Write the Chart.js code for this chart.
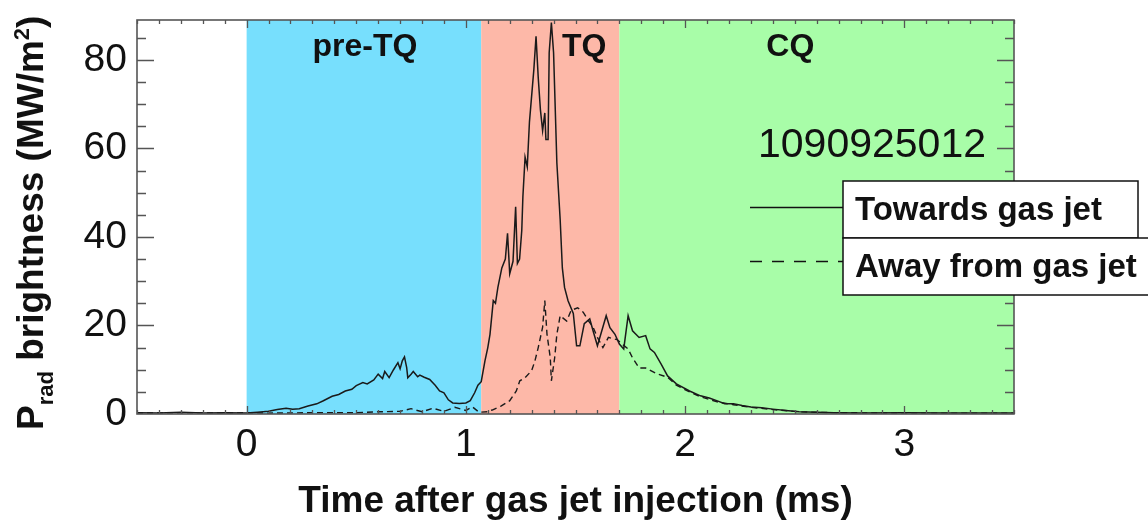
<!DOCTYPE html>
<html>
<head>
<meta charset="utf-8">
<script src="https://cdn.jsdelivr.net/npm/chart.js@4"></script>
<style>
  html, body { margin: 0; padding: 0; background: #fff; }
  #wrap { width: 1148px; height: 526px; }
</style>
</head>
<body>
<div id="wrap"><canvas id="prad" width="1148" height="526"></canvas></div>
<script>
// Prad brightness (MW/m^2) vs time after gas jet injection (ms)
const towardsTime = [-0.50, -0.40, -0.30, -0.20, -0.10, 0.00, 0.05, 0.10, 0.14, 0.18,
  0.21, 0.24, 0.28, 0.32, 0.35, 0.39, 0.42, 0.45, 0.48, 0.50,
  0.53, 0.55, 0.58, 0.60, 0.62, 0.63, 0.65, 0.67, 0.69, 0.70,
  0.71, 0.72, 0.73, 0.735, 0.75, 0.76, 0.78, 0.79, 0.81, 0.835,
  0.86, 0.88, 0.90, 0.92, 0.94, 0.97, 1.00, 1.02, 1.04, 1.055,
  1.07, 1.087, 1.10, 1.11, 1.125, 1.135, 1.146, 1.164, 1.18, 1.19,
  1.20, 1.215, 1.227, 1.235, 1.245, 1.255, 1.26, 1.27, 1.28, 1.29,
  1.31, 1.32, 1.33, 1.34, 1.35, 1.36, 1.365, 1.375, 1.38, 1.39,
  1.40, 1.415, 1.43, 1.44, 1.45, 1.466, 1.49, 1.505, 1.52, 1.54,
  1.565, 1.58, 1.60, 1.62, 1.64, 1.657, 1.68, 1.70, 1.72, 1.74,
  1.76, 1.79, 1.82, 1.84, 1.86, 1.89, 1.92, 1.96, 2.02, 2.07,
  2.11, 2.15, 2.18, 2.22, 2.26, 2.30, 2.35, 2.40, 2.46, 2.52,
  2.60, 2.68, 2.80, 3.00, 3.20, 3.50];
const towardsPrad = [0.3, 0.2, 0.4, 0.2, 0.3, 0.2, 0.4, 0.6, 1.0, 1.3,
  1.1, 1.2, 1.8, 2.3, 3.0, 4.0, 4.4, 5.2, 5.6, 6.4,
  7.1, 6.8, 7.7, 9.0, 8.0, 9.6, 8.2, 10.0, 11.6, 10.2,
  12.0, 12.9, 10.5, 8.2, 9.0, 9.6, 8.4, 8.8, 8.3, 7.8,
  6.5, 5.2, 4.8, 3.2, 2.5, 2.4, 2.5, 3.0, 4.8, 6.5,
  7.3, 12.0, 15.0, 18.0, 25.6, 25.0, 28.6, 33.0, 35.0, 40.8,
  31.7, 34.5, 46.8, 34.0, 35.0, 41.5, 49.0, 58.0, 55.8, 66.0,
  77.8, 85.3, 76.0, 68.7, 64.0, 68.0, 62.0, 62.0, 81.6, 88.4,
  81.6, 56.7, 44.0, 33.0, 28.6, 25.6, 22.7, 15.4, 15.4, 20.4,
  21.5, 18.8, 15.4, 18.8, 22.2, 19.5, 18.0, 15.8, 14.7, 22.2,
  18.8, 17.3, 17.7, 14.7, 13.9, 11.3, 8.6, 6.8, 5.2, 4.1,
  3.6, 2.9, 2.3, 2.3, 1.9, 1.6, 1.4, 1.1, 0.8, 0.5,
  0.4, 0.3, 0.2, 0.3, 0.2, 0.2];

const awayTime = [-0.50, -0.30, -0.10, 0.00, 0.10, 0.30, 0.50, 0.60, 0.70, 0.75,
  0.80, 0.85, 0.90, 0.95, 1.00, 1.03, 1.06, 1.10, 1.12, 1.16,
  1.20, 1.23, 1.246, 1.27, 1.30, 1.315, 1.33, 1.35, 1.36, 1.37,
  1.385, 1.39, 1.405, 1.415, 1.43, 1.46, 1.48, 1.51, 1.535, 1.56,
  1.58, 1.60, 1.625, 1.65, 1.67, 1.69, 1.72, 1.74, 1.76, 1.79,
  1.82, 1.87, 1.92, 1.96, 2.02, 2.07, 2.15, 2.22, 2.30, 2.40,
  2.52, 2.68, 3.00, 3.50];
const awayPrad = [0.2, 0.3, 0.2, 0.3, 0.2, 0.3, 0.3, 0.5, 0.6, 1.2,
  0.5, 1.3, 0.6, 1.5, 0.8, 1.6, 0.4, 0.5, 0.9, 1.8,
  3.0, 5.2, 7.5, 8.2, 9.8, 12.0, 15.0, 19.6, 25.6, 18.0,
  12.7, 7.5, 12.7, 18.0, 22.2, 21.0, 23.4, 24.0, 23.0, 21.0,
  19.6, 17.3, 15.0, 17.3, 17.0, 16.8, 15.5, 14.7, 12.7, 10.4,
  10.4, 9.1, 8.3, 6.5, 5.0, 3.9, 2.7, 2.1, 1.5, 1.0,
  0.5, 0.3, 0.2, 0.2];

// axis tick labels
const timeTicks = [0, 1, 2, 3];
const pradTicks = [0, 20, 40, 60, 80];

// discharge phases
const phaseNames = ['pre-TQ', 'TQ', 'CQ'];
const phaseStart = [0, 1.07, 1.70];
const phaseEnd = [1.07, 1.70, 3.5];
const phaseColors = ['#77dffd', '#fdb8a8', '#a8fda8'];

const seriesNames = ['Towards gas jet', 'Away from gas jet'];
const shotNumber = '1090925012';

const pts = (t, v) => t.map((x, i) => ({x: x, y: v[i]}));

const INK = '#111';
const FRAME = '#555';
const FONT = '"Liberation Sans", Arial, sans-serif';

// coloured phase bands behind the traces
const phaseBands = {
  id: 'phaseBands',
  beforeDatasetsDraw(chart) {
    const {ctx, chartArea: a, scales: {x}} = chart;
    ctx.save();
    for (let i = 0; i < phaseStart.length; i++) {
      const x0 = x.getPixelForValue(phaseStart[i]);
      const x1 = x.getPixelForValue(phaseEnd[i]);
      ctx.fillStyle = phaseColors[i];
      ctx.fillRect(x0, a.top, x1 - x0, a.bottom - a.top);
    }
    ctx.restore();
  }
};

// frame with inward ticks, phase names, shot number, legend and y title
const decorations = {
  id: 'decorations',
  afterDatasetsDraw(chart) {
    const {ctx, chartArea: a, scales: {x, y}} = chart;
    ctx.save();

    // frame
    ctx.strokeStyle = FRAME;
    ctx.lineWidth = 1.6;
    ctx.strokeRect(a.left, a.top, a.right - a.left, a.bottom - a.top);

    // x ticks every 0.1 ms, top and bottom
    ctx.lineWidth = 1.3;
    ctx.beginPath();
    for (let k = -5; k <= 35; k++) {
      const px = Math.round(x.getPixelForValue(k / 10)) + 0.5;
      const len = k % 10 === 0 ? 8 : 4;
      ctx.moveTo(px, a.bottom); ctx.lineTo(px, a.bottom - len);
      ctx.moveTo(px, a.top); ctx.lineTo(px, a.top + len);
    }
    // y ticks every 5, left and right
    for (let v = 5; v <= 85; v += 5) {
      const py = Math.round(y.getPixelForValue(v)) + 0.5;
      const len = v % 20 === 0 ? 17 : 9;
      ctx.moveTo(a.left, py); ctx.lineTo(a.left + len, py);
      ctx.moveTo(a.right, py); ctx.lineTo(a.right - len, py);
    }
    ctx.stroke();

    // phase names
    const labelAt = [0.54, 1.54, 2.48];
    ctx.fillStyle = INK;
    ctx.font = 'bold 32px ' + FONT;
    ctx.textAlign = 'center';
    ctx.textBaseline = 'middle';
    phaseNames.forEach((n, i) => ctx.fillText(n, x.getPixelForValue(labelAt[i]), 47));

    // shot number
    ctx.font = '41px ' + FONT;
    ctx.fillText(shotNumber, 872, 146);

    // legend boxes
    const boxes = [[843, 181, 295, 57], [843, 238, 312, 57]];
    ctx.fillStyle = '#fff';
    ctx.strokeStyle = INK;
    ctx.lineWidth = 1.5;
    boxes.forEach(b => { ctx.fillRect(b[0], b[1], b[2], b[3]); ctx.strokeRect(b[0], b[1], b[2], b[3]); });
    ctx.fillStyle = INK;
    ctx.font = 'bold 33px ' + FONT;
    ctx.textAlign = 'left';
    boxes.forEach((b, i) => ctx.fillText(seriesNames[i], b[0] + 12, b[1] + b[3] / 2 + 1));
    // line samples
    ctx.lineWidth = 1.4;
    ctx.beginPath(); ctx.moveTo(750, 207.5); ctx.lineTo(843, 207.5); ctx.stroke();
    ctx.setLineDash([12, 10]);
    ctx.beginPath(); ctx.moveTo(750, 261.5); ctx.lineTo(843, 261.5); ctx.stroke();
    ctx.setLineDash([]);

    // y axis title with subscript and superscript
    const parts = [
      ['P', 37, 0], ['rad', 22, 10], [' brightness (MW/m', 37, 0], ['2', 22, -14], [')', 37, 0]
    ];
    ctx.translate(43, 430);
    ctx.rotate(-Math.PI / 2);
    ctx.textBaseline = 'alphabetic';
    let cx = 0;
    parts.forEach(p => {
      ctx.font = 'bold ' + p[1] + 'px ' + FONT;
      ctx.fillText(p[0], cx, p[2]);
      cx += ctx.measureText(p[0]).width;
    });
    ctx.restore();
  }
};

new Chart('prad', {
  type: 'line',
  data: {
    datasets: [{
      label: seriesNames[0],
      data: pts(towardsTime, towardsPrad),
      borderColor: '#1a1a1a',
      borderWidth: 1.5,
      pointRadius: 0,
      tension: 0
    }, {
      label: seriesNames[1],
      data: pts(awayTime, awayPrad),
      borderColor: '#1a1a1a',
      borderWidth: 1.4,
      borderDash: [6, 4],
      pointRadius: 0,
      tension: 0
    }]
  },
  options: {
    responsive: false,
    animation: false,
    devicePixelRatio: 1,
    layout: { padding: { top: 20, right: 134, bottom: 0, left: 0 } },
    plugins: { legend: { display: false }, tooltip: { enabled: false } },
    scales: {
      x: {
        type: 'linear',
        min: -0.5,
        max: 3.5,
        grid: { display: false, drawTicks: false },
        border: { display: false },
        ticks: {
          padding: 12,
          color: INK,
          font: { family: FONT, size: 39, lineHeight: 1 }
        },
        title: {
          display: true,
          text: 'Time after gas jet injection (ms)',
          color: INK,
          padding: { top: 0, bottom: 2 },
          font: { family: FONT, size: 37, weight: 'bold', lineHeight: 1.2 }
        },
        afterBuildTicks(scale) { scale.ticks = timeTicks.map(v => ({value: v})); },
        afterFit(scale) {
          scale.height = 112;
          scale.paddingLeft = 0;
          scale.paddingRight = 0;
        }
      },
      y: {
        min: 0,
        max: 89,
        grid: { display: false, drawTicks: false },
        border: { display: false },
        ticks: {
          padding: 10,
          color: INK,
          font: { family: FONT, size: 39, lineHeight: 1 }
        },
        afterBuildTicks(scale) { scale.ticks = pradTicks.map(v => ({value: v})); },
        afterFit(scale) {
          scale.width = 137;
          scale.paddingTop = 0;
          scale.paddingBottom = 0;
        }
      }
    }
  },
  plugins: [phaseBands, decorations]
});
</script>
</body>
</html>
